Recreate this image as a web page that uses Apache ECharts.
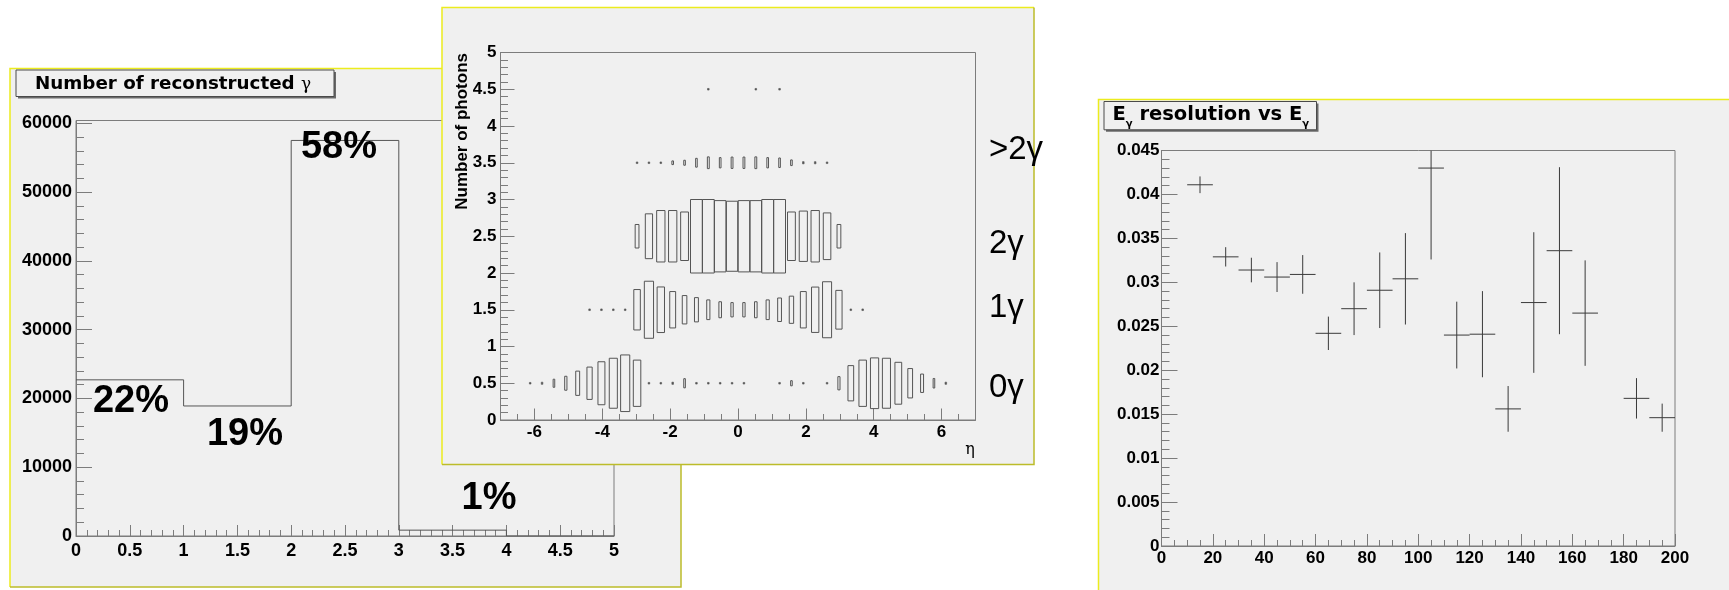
<!DOCTYPE html>
<html>
<head>
<meta charset="utf-8">
<script src="https://cdn.jsdelivr.net/npm/echarts@6/dist/echarts.min.js"></script>
<style>
html,body{margin:0;padding:0;background:#ffffff;}
#c{width:1729px;height:590px;}
</style>
</head>
<body>
<div id="c"></div>
<script>
// ---------- Panel 1: number of reconstructed photons ----------
const nGammaBinEdges = [0, 1, 2, 3, 4, 5];
const nGammaCounts = [22700, 18900, 57500, 850, 0];
const nGammaPercents = ['22%', '19%', '58%', '1%'];
const nGammaYMax = 60400;
const nGammaYTicks = [0, 10000, 20000, 30000, 40000, 50000, 60000];
const nGammaYMinorStep = 2000;

// ---------- Panel 2: number of photons vs eta (box histogram) ----------
const etaRange = [-7, 7];
const etaBinCount = 40;
const etaMajorTicks = [-6, -4, -2, 0, 2, 4, 6];
const photonRowCenters = [0.5, 1.5, 2.5, 3.5, 4.5];
const photonRowLabels = ['>2γ', '2γ', '1γ', '0γ'];
// relative box size per eta bin, one array per row (0, 1, 2, 3, 4 photons)
const boxes0 = [0,0,0.02,0.03,0.11,0.19,0.33,0.44,0.585,0.68, 0.77,0.63,0.02,0.02,0.03,0.125,0.02,0.02,0.02,0.02, 0.02,0,0,0.02,0.07,0.02,0,0.02,0.18,0.48, 0.63,0.69,0.68,0.57,0.40,0.25,0.13,0.03,0,0];
const boxes1 = [0,0,0,0,0,0,0,0.02,0.02,0.02, 0.02,0.55,0.776,0.62,0.495,0.386,0.33,0.268,0.218,0.195, 0.195,0.218,0.268,0.32,0.37,0.495,0.617,0.762,0.527,0.02, 0.02,0,0,0,0,0,0,0,0,0];
const boxes2 = [0,0,0,0,0,0,0,0,0,0, 0,0.32,0.61,0.70,0.70,0.66,1,1,0.97,0.953, 0.97,0.97,1,1,0.66,0.685,0.70,0.635,0.32,0, 0,0,0,0,0,0,0,0,0,0];
const boxes3 = [0,0,0,0,0,0,0,0,0,0, 0,0.02,0.02,0.02,0.05,0.068,0.12,0.16,0.14,0.155, 0.155,0.16,0.14,0.13,0.077,0.03,0.03,0.02,0,0, 0,0,0,0,0,0,0,0,0,0];
const boxes4 = [0,0,0,0,0,0,0,0,0,0, 0,0,0,0,0,0,0,0.02,0,0, 0,0.02,0,0.02,0,0,0,0,0,0, 0,0,0,0,0,0,0,0,0,0];

// ---------- Panel 3: E_gamma resolution vs E_gamma ----------
const energyCenters = [15, 25, 35, 45, 55, 65, 75, 85, 95, 105, 115, 125, 135, 145, 155, 165, 185, 195];
const energyHalfWidth = 5;
const resolution = [0.0411, 0.0329, 0.0314, 0.0306, 0.0309, 0.0242, 0.0270, 0.0291, 0.0304, 0.0430, 0.0240, 0.0241, 0.0156, 0.0277, 0.0336, 0.0265, 0.0168, 0.0146];
const resolutionErr = [0.00095, 0.0011, 0.0014, 0.0017, 0.0022, 0.0019, 0.0030, 0.0043, 0.0052, 0.0104, 0.0038, 0.0049, 0.0026, 0.0080, 0.0095, 0.0060, 0.0023, 0.0016];

// ---------- derived data ----------
const histData = nGammaCounts.map((c, i) => [nGammaBinEdges[i], c]);
histData.push([nGammaBinEdges[nGammaBinEdges.length - 1], 0]);
const nGammaYMinorTicks = [];
for (let v = nGammaYMinorStep; v < nGammaYMax; v += nGammaYMinorStep) nGammaYMinorTicks.push(v);

const etaBinWidth = (etaRange[1] - etaRange[0]) / etaBinCount;
const boxRows = [boxes0, boxes1, boxes2, boxes3, boxes4];
const boxData = [];
boxRows.forEach((row, r) => {
  row.forEach((s, k) => {
    if (s > 0) boxData.push([etaRange[0] + etaBinWidth * (k + 0.5), photonRowCenters[r], s]);
  });
});
const errData = energyCenters.map((e, i) => [e, resolution[i], resolutionErr[i]]);

// ---------- styles ----------
const NUM = "'Liberation Sans', Arial, Helvetica, sans-serif";
const TXT = "'DejaVu Sans', sans-serif";
const AX = '#7c7c7c';
const PANEL = '#f0f0f0';
const YEL = '#ecec1e';
const YEL2 = '#bcbc2a';
const plain = v => String(+v.toPrecision(10));

function lbl(size, margin, extra) {
  return Object.assign({ show: true, color: '#000', fontFamily: NUM, fontWeight: 'bold', fontSize: size, margin: margin, formatter: plain }, extra || {});
}
function line() { return { show: true, onZero: false, lineStyle: { color: AX } }; }

const chart = echarts.init(document.getElementById('c'), null, { renderer: 'canvas' });

const option = {
  animation: false,
  backgroundColor: '#ffffff',
  grid: [
    { left: 76, top: 120.5, width: 538, height: 415.5, show: true, borderColor: AX, borderWidth: 1, backgroundColor: 'transparent', z: 1 },
    { left: 500.5, top: 52.5, width: 475, height: 367.5, show: true, borderColor: AX, borderWidth: 1, backgroundColor: 'transparent', z: 11 },
    { left: 1161.5, top: 150.5, width: 513.5, height: 395.5, show: true, borderColor: AX, borderWidth: 1, backgroundColor: 'transparent', z: 1 }
  ],
  xAxis: [
    { gridIndex: 0, type: 'value', position: 'bottom', min: 0, max: 5, interval: 0.5, z: 2,
      axisLine: line(),
      axisTick: { show: true, inside: true, length: 11, lineStyle: { color: AX } },
      minorTick: { show: true, splitNumber: 5, length: 6, lineStyle: { color: AX } },
      splitLine: { show: false }, minorSplitLine: { show: false },
      axisLabel: lbl(18, 6) },
    { gridIndex: 1, type: 'value', position: 'bottom', min: etaRange[0], max: etaRange[1], z: 11,
      axisLine: line(),
      axisTick: { show: true, inside: true, length: 11.5, customValues: etaMajorTicks, lineStyle: { color: AX } },
      splitLine: { show: false },
      axisLabel: lbl(17, 4, { customValues: etaMajorTicks }) },
    { gridIndex: 1, type: 'value', position: 'bottom', min: etaRange[0], max: etaRange[1], interval: 0.5, z: 11,
      axisLine: { show: false, onZero: false },
      axisTick: { show: true, inside: true, length: 6, lineStyle: { color: AX } },
      splitLine: { show: false },
      axisLabel: { show: false } },
    { gridIndex: 2, type: 'value', position: 'bottom', min: 0, max: 200, interval: 20, z: 2,
      axisLine: line(),
      axisTick: { show: true, inside: true, length: 12, lineStyle: { color: AX } },
      minorTick: { show: true, splitNumber: 4, length: 6, lineStyle: { color: AX } },
      splitLine: { show: false }, minorSplitLine: { show: false },
      axisLabel: lbl(17, 4) }
  ],
  yAxis: [
    { gridIndex: 0, type: 'value', position: 'left', min: 0, max: nGammaYMax, z: 2,
      axisLine: line(),
      axisTick: { show: true, inside: true, length: 16, customValues: nGammaYTicks, lineStyle: { color: AX } },
      splitLine: { show: false },
      axisLabel: lbl(18, 4, { customValues: nGammaYTicks }) },
    { gridIndex: 0, type: 'value', position: 'left', min: 0, max: nGammaYMax, z: 2,
      axisLine: { show: false, onZero: false },
      axisTick: { show: true, inside: true, length: 8, customValues: nGammaYMinorTicks, lineStyle: { color: AX } },
      splitLine: { show: false },
      axisLabel: { show: false } },
    { gridIndex: 1, type: 'value', position: 'left', min: 0, max: 5, interval: 0.5, z: 11,
      axisLine: line(),
      axisTick: { show: true, inside: true, length: 14, lineStyle: { color: AX } },
      minorTick: { show: true, splitNumber: 5, length: 7.5, lineStyle: { color: AX } },
      splitLine: { show: false }, minorSplitLine: { show: false },
      axisLabel: lbl(17, 4) },
    { gridIndex: 2, type: 'value', position: 'left', min: 0, max: 0.045, interval: 0.005, z: 2,
      axisLine: line(),
      axisTick: { show: true, inside: true, length: 16, lineStyle: { color: AX } },
      minorTick: { show: true, splitNumber: 5, length: 8, lineStyle: { color: AX } },
      splitLine: { show: false }, minorSplitLine: { show: false },
      axisLabel: lbl(17, 2) }
  ],
  series: [
    { type: 'line', xAxisIndex: 0, yAxisIndex: 0, step: 'end', data: histData, symbol: 'none',
      lineStyle: { color: '#555', width: 1 }, z: 3, silent: true },
    { type: 'custom', xAxisIndex: 1, yAxisIndex: 2, data: boxData, z: 12, silent: true,
      renderItem: function (params, api) {
        const x = api.value(0), y = api.value(1), s = api.value(2);
        const p0 = api.coord([x - s * etaBinWidth / 2, y + s * 0.5]);
        const p1 = api.coord([x + s * etaBinWidth / 2, y - s * 0.5]);
        const cx = (p0[0] + p1[0]) / 2, cy = (p0[1] + p1[1]) / 2;
        const w = Math.max(p1[0] - p0[0], 1.6), h = Math.max(p1[1] - p0[1], 1.6);
        const tiny = s < 0.05;
        return { type: 'rect', shape: { x: cx - w / 2, y: cy - h / 2, width: w, height: h },
          style: { fill: tiny ? '#555' : 'none', stroke: '#555', lineWidth: tiny ? 0.6 : 1 } };
      } },
    { type: 'custom', xAxisIndex: 3, yAxisIndex: 3, data: errData, z: 3, silent: true, clip: true,
      renderItem: function (params, api) {
        const x = api.value(0), y = api.value(1), ey = api.value(2);
        const c = api.coord([x, y]);
        const l = api.coord([x - energyHalfWidth, y]);
        const r = api.coord([x + energyHalfWidth, y]);
        const t = api.coord([x, y + ey]);
        const b = api.coord([x, y - ey]);
        const cs = params.coordSys;
        const st = { stroke: '#3a3a3a', lineWidth: 1 };
        return { type: 'group', children: [
          { type: 'line', shape: { x1: l[0], y1: c[1], x2: r[0], y2: c[1] }, style: st },
          { type: 'line', shape: { x1: c[0], y1: Math.max(t[1], cs.y), x2: c[0], y2: b[1] }, style: st }
        ] };
      } }
  ],
  graphic: [
    // ---- left panel ----
    { type: 'rect', z: 0, shape: { x: 10, y: 68, width: 671, height: 519 }, style: { fill: PANEL } },
    { type: 'polyline', z: 0, z2: 1, shape: { points: [[10, 587], [10, 68.5], [681, 68.5]] }, style: { stroke: YEL, lineWidth: 1.5, fill: null } },
    { type: 'polyline', z: 0, z2: 1, shape: { points: [[10, 587], [681, 587], [681, 68.5]] }, style: { stroke: YEL2, lineWidth: 1.5, fill: null } },
    { type: 'rect', z: 1, z2: 0, shape: { x: 18, y: 72, width: 318, height: 26.5 }, style: { fill: '#6a6a6a' } },
    { type: 'rect', z: 1, z2: 1, shape: { x: 16, y: 70, width: 318, height: 26.5 }, style: { fill: PANEL, stroke: '#4a4a4a', lineWidth: 1 } },
    { type: 'text', z: 1, z2: 2, x: 35, y: 84.5, style: {
        text: '{b|Number of reconstructed }{g|γ}', align: 'left', verticalAlign: 'middle',
        rich: { b: { fontFamily: TXT, fontWeight: 'bold', fontSize: 18.3, fill: '#000', color: '#000' },
                g: { fontFamily: "'DejaVu Serif', serif", fontSize: 17, fill: '#000', color: '#000' } } } },
    { type: 'text', z: 4, x: 131, y: 402, style: { text: nGammaPercents[0], font: "bold 38px 'Liberation Sans', Arial, sans-serif", fill: '#000', align: 'center', verticalAlign: 'middle' } },
    { type: 'text', z: 4, x: 245, y: 435, style: { text: nGammaPercents[1], font: "bold 38px 'Liberation Sans', Arial, sans-serif", fill: '#000', align: 'center', verticalAlign: 'middle' } },
    { type: 'text', z: 4, x: 339, y: 148, style: { text: nGammaPercents[2], font: "bold 38px 'Liberation Sans', Arial, sans-serif", fill: '#000', align: 'center', verticalAlign: 'middle' } },
    { type: 'text', z: 4, x: 489, y: 499, style: { text: nGammaPercents[3], font: "bold 38px 'Liberation Sans', Arial, sans-serif", fill: '#000', align: 'center', verticalAlign: 'middle' } },

    // ---- right panel ----
    { type: 'rect', z: 0, shape: { x: 1098.5, y: 99.5, width: 640, height: 500 }, style: { fill: PANEL } },
    { type: 'polyline', z: 0, z2: 1, shape: { points: [[1098.5, 600], [1098.5, 99.5], [1740, 99.5]] }, style: { stroke: YEL, lineWidth: 1.5, fill: null } },
    { type: 'rect', z: 1, z2: 0, shape: { x: 1106, y: 103.5, width: 212.5, height: 28.3 }, style: { fill: '#6a6a6a' } },
    { type: 'rect', z: 1, z2: 1, shape: { x: 1104, y: 101.5, width: 212.5, height: 28.3 }, style: { fill: PANEL, stroke: '#4a4a4a', lineWidth: 1 } },
    { type: 'text', z: 1, z2: 2, x: 1112.5, y: 114.5, style: {
        text: '{b|E}{s|γ}{b| resolution vs E}{s|γ}', align: 'left', verticalAlign: 'middle',
        rich: { b: { fontFamily: TXT, fontWeight: 'bold', fontSize: 19.5, lineHeight: 30, fill: '#000', color: '#000' },
                s: { fontFamily: TXT, fontWeight: 'bold', fontSize: 10, lineHeight: 11, verticalAlign: 'bottom', fill: '#000', color: '#000' } } } },

    // ---- middle panel (on top) ----
    { type: 'rect', z: 10, shape: { x: 442, y: 7.5, width: 592, height: 457 }, style: { fill: PANEL } },
    { type: 'polyline', z: 10, z2: 1, shape: { points: [[442, 464.5], [442, 7.5], [1034, 7.5]] }, style: { stroke: YEL, lineWidth: 1.5, fill: null } },
    { type: 'polyline', z: 10, z2: 1, shape: { points: [[442, 464.5], [1034, 464.5], [1034, 7.5]] }, style: { stroke: YEL2, lineWidth: 1.5, fill: null } },
    { type: 'text', z: 13, x: 462.5, y: 53, rotation: Math.PI / 2, style: { text: 'Number of photons', font: "bold 17px 'Liberation Sans', Arial, sans-serif", fill: '#000', align: 'right', verticalAlign: 'middle' } },
    { type: 'text', z: 13, x: 970, y: 450, style: { text: 'η', font: "16px 'DejaVu Serif', serif", fill: '#000', align: 'center', verticalAlign: 'middle' } },
    { type: 'text', z: 13, x: 989, y: 149.5, style: { text: photonRowLabels[0], font: "33px 'Liberation Sans', Arial, sans-serif", fill: '#000', align: 'left', verticalAlign: 'middle' } },
    { type: 'text', z: 13, x: 989, y: 243.5, style: { text: photonRowLabels[1], font: "33px 'Liberation Sans', Arial, sans-serif", fill: '#000', align: 'left', verticalAlign: 'middle' } },
    { type: 'text', z: 13, x: 989, y: 307.5, style: { text: photonRowLabels[2], font: "33px 'Liberation Sans', Arial, sans-serif", fill: '#000', align: 'left', verticalAlign: 'middle' } },
    { type: 'text', z: 13, x: 989, y: 387.5, style: { text: photonRowLabels[3], font: "33px 'Liberation Sans', Arial, sans-serif", fill: '#000', align: 'left', verticalAlign: 'middle' } }
  ]
};
chart.setOption(option);
</script>
</body>
</html>
